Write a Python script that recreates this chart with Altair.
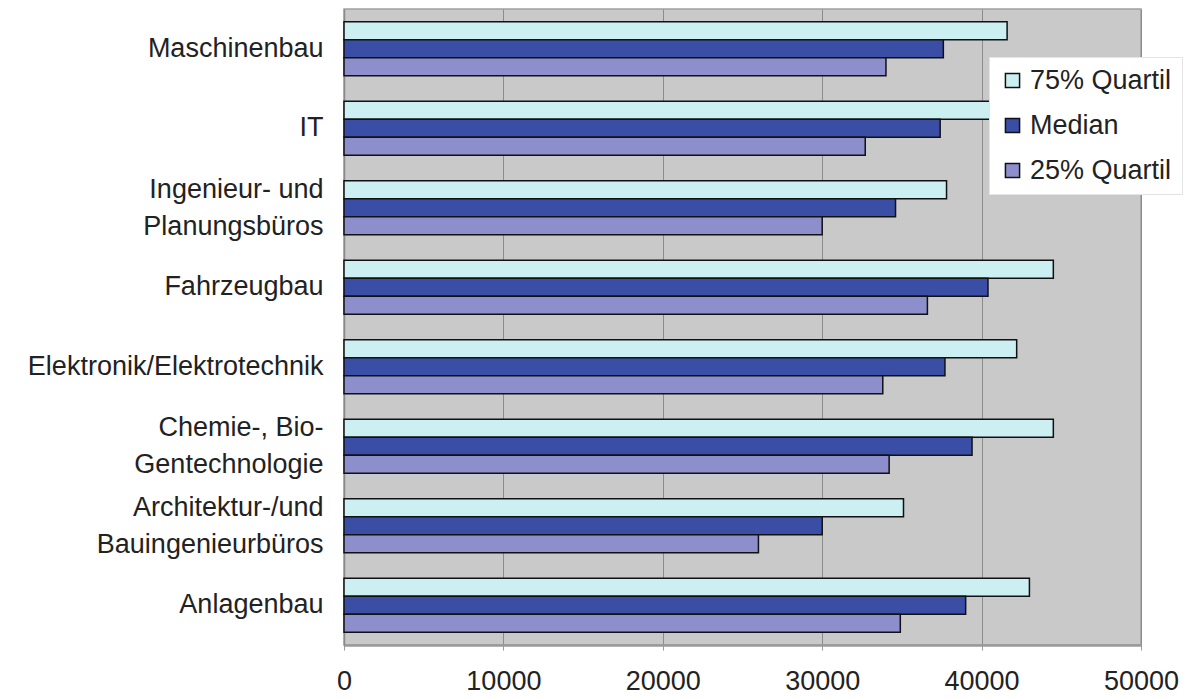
import altair as alt
import pandas as pd

categories = [
    "Maschinenbau",
    "IT",
    "Ingenieur- und|Planungsbüros",
    "Fahrzeugbau",
    "Elektronik/Elektrotechnik",
    "Chemie-, Bio-|Gentechnologie",
    "Architektur-/und|Bauingenieurbüros",
    "Anlagenbau",
]
series = ["75% Quartil", "Median", "25% Quartil"]
q75 = [41600, 41500, 37800, 44500, 42200, 44500, 35100, 43000]
median = [37600, 37400, 34600, 40400, 37700, 39400, 30000, 39000]
q25 = [34000, 32700, 30000, 36600, 33800, 34200, 26000, 34900]
colors = ["#ccf0f2", "#3a4ea6", "#8c8fcc"]
x_ticks = [0, 10000, 20000, 30000, 40000, 50000]

rows = []
for s, vals in zip(series, [q75, median, q25]):
    for c, v in zip(categories, vals):
        rows.append({"Branche": c, "Serie": s, "Wert": v})
df = pd.DataFrame(rows)

FONT = "Liberation Sans"

chart = alt.Chart(df).mark_bar(stroke="#111111", strokeWidth=1.5).encode(
    y=alt.Y(
        "Branche:N",
        sort=categories,
        scale=alt.Scale(paddingInner=0.32, paddingOuter=0.16),
        axis=alt.Axis(
            title=None,
            labelExpr="split(datum.label, '|')",
            labelFont=FONT,
            labelFontSize=27,
            labelColor="#222222",
            labelLineHeight=37,
            labelPadding=21,
            labelOffset={
                "condition": {"test": "indexof(datum.label, '|') >= 0", "value": -18},
                "value": 0,
            },
            ticks=False,
            domainColor="#8a8a8a",
            domainWidth=1.5,
            grid=False,
            labelLimit=400,
        ),
    ),
    yOffset=alt.YOffset("Serie:N", sort=series, scale=alt.Scale(paddingInner=0, paddingOuter=0)),
    x=alt.X(
        "Wert:Q",
        scale=alt.Scale(domain=[0, 50000], nice=False),
        axis=alt.Axis(
            title=None,
            values=x_ticks,
            format="d",
            labelFont=FONT,
            labelFontSize=27,
            labelColor="#222222",
            labelPadding=18,
            tickSize=5,
            tickColor="#9a9a9a",
            domainColor="#9a9a9a",
            domainWidth=2.5,
            grid=True,
            gridColor="#8c8c8c",
            gridWidth=1,
            labelFlush=False,
        ),
    ),
    color=alt.Color(
        "Serie:N",
        sort=series,
        scale=alt.Scale(domain=series, range=colors),
        legend=alt.Legend(
            title=None,
            orient="none",
            legendX=645,
            legendY=48,
            fillColor="white",
            strokeColor="#e4e4e4",
            padding=10,
            symbolType="square",
            symbolSize=200,
            symbolStrokeColor="#111111",
            symbolStrokeWidth=1.5,
            symbolOpacity=1,
            labelFont=FONT,
            labelFontSize=27,
            labelColor="#222222",
            labelOffset=4,
            rowPadding=17,
            labelLimit=300,
        ),
    ),
).properties(
    width=797,
    height=636,
    autosize=alt.AutoSizeParams(type="none"),
    padding={"left": 344, "top": 9, "right": 51, "bottom": 54},
    background="white",
).configure_view(fill="#c9c9c9", stroke="#a0a0a0", strokeWidth=1.5)

chart.save("out.html", embed_options={"renderer": "svg", "actions": False})
